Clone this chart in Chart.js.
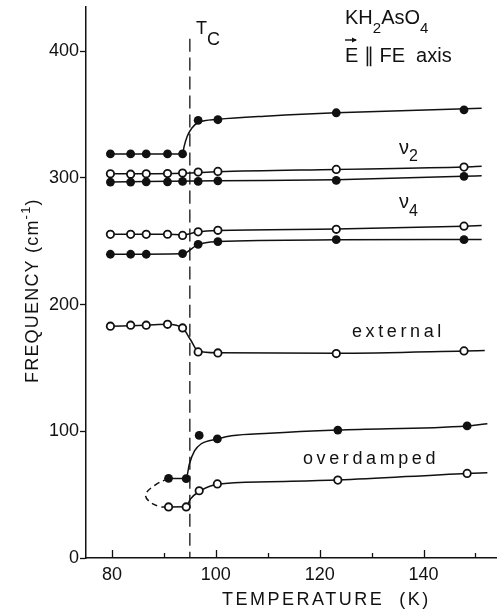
<!DOCTYPE html>
<html>
<head>
<meta charset="utf-8">
<script src="https://cdn.jsdelivr.net/npm/chart.js@4.4.1/dist/chart.umd.min.js"></script>
<style>
  html, body { margin: 0; padding: 0; background: #fff; }
  canvas { display: block; }
</style>
</head>
<body>
<canvas id="raman" width="502" height="613"></canvas>
<script>
const INK = "#111";
const FONT = "'Liberation Sans', Arial, sans-serif";

// temperatures (K) where spectra were taken
const tempMain = [79.7, 83.6, 86.6, 90.7, 93.6, 96.6, 100.4, 123.2, 147.8];
const tempOverdamped = [90.9, 94.3, 96.8, 100.3, 123.5, 148.4];

// mode frequencies (cm-1), null where no point was measured
const freqTop = [319, 319, 319, 319, 319, 345.5, 346, 351.5, 353.8];
const freqNu2Open = [303.3, 303, 303.3, 303.5, 303.9, 304.7, 305.2, 306.8, 308.6];
const freqNu2Filled = [296.8, 296.8, 297, 297, 297.3, 297.3, 297.8, 298.1, 301.3];
const freqNu4Open = [255.5, 255.5, 255.5, 255.6, 254.7, 257.5, 258.7, 259.5, 262];
const freqNu4Filled = [239.8, 239.8, 239.8, null, 240.3, 247.6, 249.8, 251.3, 251.3];
const freqExternal = [183, 183.8, 183.8, 184.5, 181.6, 162.7, 161.9, 161.4, 163.5];
const freqOdFilled = [62.9, 62.6, 96.8, 94, 101, 104.3];
const freqOdOpen = [40.3, 40.3, 53.1, 58.5, 61.5, 66.8];

// guide curves drawn through the points, [T, freq] knots
const fitTop = [[79.7, 319], [93.6, 319], [93.9, 325], [94.5, 333], [95.4, 339.5], [96.6, 343.8], [100.4, 346.3], [110.3, 349], [123.2, 351.5], [151.2, 355]];
const fitNu2Open = [[79.7, 303.3], [93.6, 303.8], [100.4, 305], [123.2, 306.8], [147.8, 308.6], [151.2, 309.2]];
const fitNu2Filled = [[79.7, 296.8], [100.4, 297.8], [123.2, 298.6], [147.8, 301.3], [151.2, 301.8]];
const fitNu4Open = [[79.7, 255.5], [90.7, 255.6], [93.6, 255], [96.6, 257.5], [100.4, 258.6], [123.2, 259.7], [147.8, 262], [151.2, 262.5]];
const fitNu4Filled = [[79.7, 239.8], [93.6, 240.2], [96.6, 247.6], [100.4, 249.8], [123.2, 251.2], [151.2, 251.5]];
const fitExternal = [[79.7, 183], [86.6, 183.8], [90.7, 184.5], [93.6, 181.6], [95.1, 172.5], [96.6, 163.2], [100.4, 162], [123.2, 161.6], [147.8, 163.4], [151.8, 163.8]];
const fitOdFilled = [[90.9, 62.9], [94.3, 62.8], [94.9, 74], [95.9, 84.5], [97.2, 90.2], [100.3, 94], [103, 96.5], [110.3, 98.5], [123.5, 101], [148.4, 104.3], [152.3, 106]];
const fitOdOpen = [[90.9, 40.3], [94.3, 40.4], [95.1, 46.5], [96.8, 52.5], [100.3, 58.2], [110.3, 60.2], [123.5, 61.5], [148.4, 66.8], [152.3, 67.3]];
const fitOdLoop = [[90.9, 62.9], [88.3, 57.6], [86.5, 50], [87.3, 44.3], [89.2, 40.6], [90.9, 40.3]];

const tc = 95;
const tcTop = 410;

const xTicks = [80, 100, 120, 140];
const xTickMarks = [80, 90, 100, 110, 120, 130, 140, 150];
const yTicks = [0, 100, 200, 300, 400];

function fitLine(knots, dashed = false) {
  return {
    type: "line",
    data: knots.map(([x, y]) => ({ x, y })),
    borderColor: INK,
    borderWidth: 1.5,
    borderDash: dashed ? [6, 4] : [],
    pointRadius: 0,
    fill: false,
    tension: 0.4,
    cubicInterpolationMode: dashed ? "default" : "monotone",
    order: 2
  };
}

function markers(temps, freqs, filled) {
  return {
    type: "scatter",
    data: temps.map((x, i) => ({ x, y: freqs[i] })).filter((p) => p.y != null),
    pointRadius: filled ? 4.4 : 3.7,
    pointBackgroundColor: filled ? INK : "#fff",
    pointBorderColor: INK,
    pointBorderWidth: filled ? 0 : 1.8,
    showLine: false,
    order: 0
  };
}

function drawRuns(ctx, x, y, runs) {
  for (const [text, size, shift] of runs) {
    ctx.font = `${size}px ${FONT}`;
    ctx.fillText(text, x, y + shift);
    x += ctx.measureText(text).width;
  }
  return x;
}

const annotations = {
  id: "annotations",
  afterDraw(chart) {
    const { ctx, chartArea, scales } = chart;
    ctx.save();
    ctx.fillStyle = INK;
    ctx.strokeStyle = INK;
    ctx.textAlign = "left";
    ctx.textBaseline = "alphabetic";

    // temperature ticks point into the plot
    ctx.lineWidth = 1.3;
    for (const t of xTickMarks) {
      const px = Math.round(scales.x.getPixelForValue(t)) + 0.5;
      const len = t % 20 === 0 ? 8 : 5;
      ctx.beginPath();
      ctx.moveTo(px, chartArea.bottom);
      ctx.lineTo(px, chartArea.bottom - len);
      ctx.stroke();
    }

    ctx.letterSpacing = "2.5px";
    drawRuns(ctx, 222, 605, [["TEMPERATURE  (K)", 18, 0]]);

    ctx.save();
    ctx.translate(38, 383);
    ctx.rotate(-Math.PI / 2);
    ctx.letterSpacing = "1.2px";
    drawRuns(ctx, 0, 0, [["FREQUENCY (cm", 18, 0], ["-1", 13, -8], [")", 18, 0]]);
    ctx.restore();

    ctx.letterSpacing = "0px";
    drawRuns(ctx, 196, 34, [["T", 18, 0], ["C", 18, 11]]);
    drawRuns(ctx, 345, 24, [["KH", 20, 0], ["2", 15, 9], ["AsO", 20, 0], ["4", 15, 9]]);
    drawRuns(ctx, 345, 62, [["E ∥ FE  axis", 20, 0]]);

    // vector arrow over E
    ctx.lineWidth = 1.4;
    ctx.beginPath();
    ctx.moveTo(345, 40);
    ctx.lineTo(356, 40);
    ctx.stroke();
    ctx.beginPath();
    ctx.moveTo(357, 40);
    ctx.lineTo(352, 37.5);
    ctx.lineTo(352, 42.5);
    ctx.closePath();
    ctx.fill();

    drawRuns(ctx, 399, 154, [["ν", 20, 0], ["2", 16, 7]]);
    drawRuns(ctx, 399, 208, [["ν", 20, 0], ["4", 16, 8]]);

    ctx.letterSpacing = "3.6px";
    drawRuns(ctx, 352, 337, [["external", 18, 0]]);
    drawRuns(ctx, 303, 464, [["overdamped", 18, 0]]);
    ctx.restore();
  }
};

const tcLine = fitLine([[tc, tcTop], [tc, 0]]);
tcLine.borderDash = [13, 6];
tcLine.borderWidth = 1.3;
tcLine.tension = 0;

new Chart(document.getElementById("raman"), {
  type: "scatter",
  data: {
    datasets: [
      tcLine,
      fitLine(fitTop),
      fitLine(fitNu2Open),
      fitLine(fitNu2Filled),
      fitLine(fitNu4Open),
      fitLine(fitNu4Filled),
      fitLine(fitExternal),
      fitLine(fitOdFilled),
      fitLine(fitOdOpen),
      fitLine(fitOdLoop, true),
      markers(tempMain, freqTop, true),
      markers(tempMain, freqNu2Open, false),
      markers(tempMain, freqNu2Filled, true),
      markers(tempMain, freqNu4Open, false),
      markers(tempMain, freqNu4Filled, true),
      markers(tempMain, freqExternal, false),
      markers(tempOverdamped, freqOdFilled, true),
      markers(tempOverdamped, freqOdOpen, false)
    ]
  },
  options: {
    responsive: false,
    animation: false,
    devicePixelRatio: 1,
    layout: { padding: { left: 0, top: 7, right: 3, bottom: 0 } },
    plugins: { legend: { display: false }, tooltip: { enabled: false } },
    scales: {
      x: {
        type: "linear",
        min: 75,
        max: 154,
        afterBuildTicks: (s) => { s.ticks = xTicks.map((value) => ({ value })); },
        afterFit: (s) => {
          s.height = 55;
          s.paddingLeft = 0;
          s.paddingRight = 0;
        },
        grid: { display: false, drawTicks: false },
        border: { display: true, color: INK, width: 1.5 },
        ticks: { color: INK, font: { family: FONT, size: 18 }, padding: 6, maxRotation: 0 }
      },
      y: {
        min: 0,
        max: 435,
        afterBuildTicks: (s) => { s.ticks = yTicks.map((value) => ({ value })); },
        afterFit: (s) => {
          s.width = 86;
          s.paddingTop = 0;
          s.paddingBottom = 0;
        },
        grid: { drawOnChartArea: false, tickLength: 6, tickColor: INK, tickWidth: 1.3 },
        border: { display: true, color: INK, width: 1.5 },
        ticks: { color: INK, font: { family: FONT, size: 18 }, padding: 1 }
      }
    }
  },
  plugins: [annotations]
});
</script>
</body>
</html>
